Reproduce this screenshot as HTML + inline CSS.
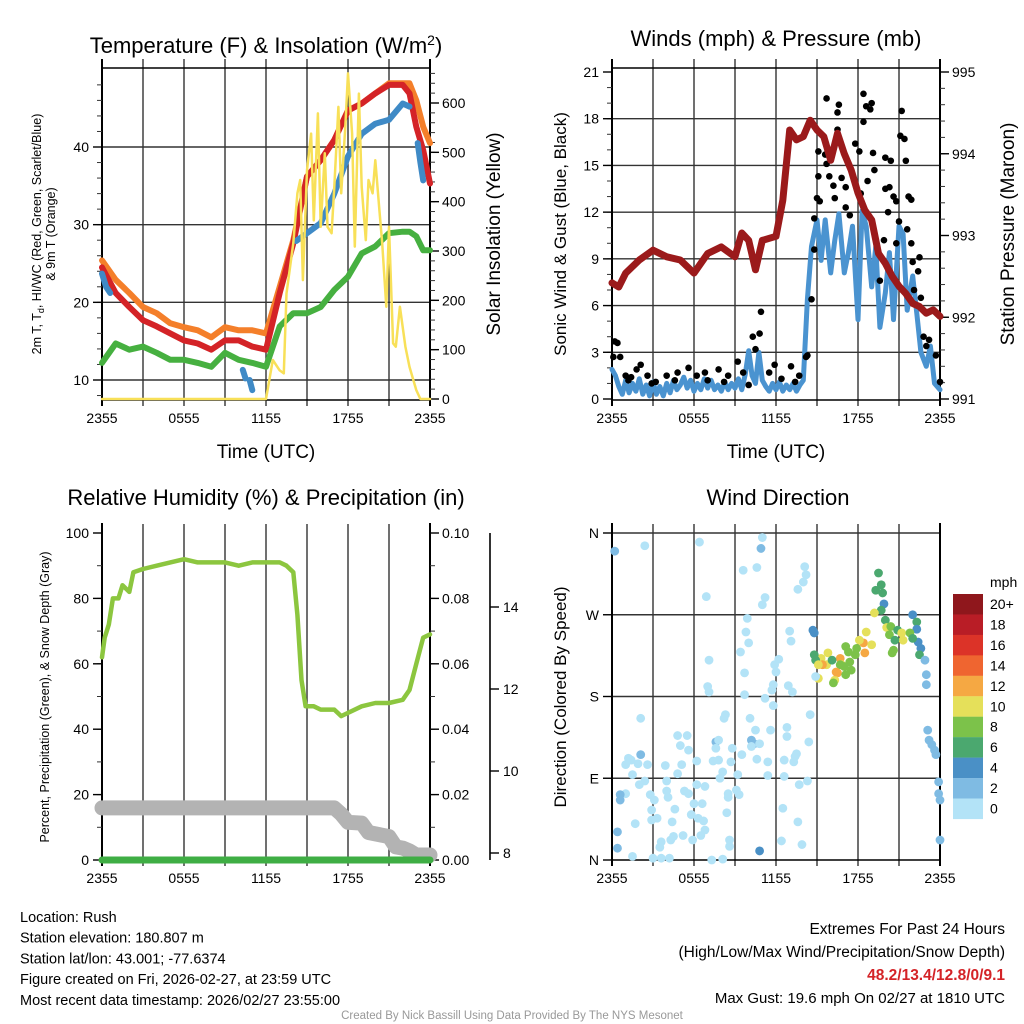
<!DOCTYPE html>
<html><head><meta charset="utf-8"><style>
html,body{margin:0;padding:0;background:#fff;}
svg{display:block;font-family:"Liberation Sans",Arial,sans-serif;}
</style></head><body>
<svg id="c" width="1024" height="1024" viewBox="0 0 1024 1024"></svg>
<script>
// ---------- Panel 1 data ----------
const tempTimes = [0,1,2,3,4,5,6,7,8,9,10,11,12,13,14,15,16,17,18,19,20,21,22,22.5,23,23.5,24];
const tempRed = [24.5,21.2,19.4,17.7,16.9,16.0,15.1,14.7,13.9,15.1,15.1,14.3,13.9,21.2,27.6,36.2,38.3,40.9,44.7,45.6,46.9,48.0,48.0,46.9,42.6,39.6,35.3];
const tempOrange = [25.4,22.9,21.2,19.4,18.6,17.3,16.8,16.4,15.5,16.8,16.4,16.4,16.0,22.0,28.0,36.2,38.3,40.9,44.7,45.6,46.9,48.2,48.2,48.2,46.0,42.6,40.5];
const tempGreen = [12.2,14.7,13.9,14.3,13.5,12.6,12.6,12.2,11.7,13.5,12.6,12.2,11.7,16.9,18.6,18.6,19.4,21.6,23.3,26.3,27.2,28.9,29.1,29.1,28.5,26.7,26.7];
const blueTimes = [0,0.3,0.6,null,10.3,10.5,null,10.8,11.0,null,14.2,15,16,17,18,19,20,21,22,22.5,null,23.1,23.3,23.5];
const blueVals = [23.7,22.0,21.2,null,11.3,10.2,null,10.0,8.7,null,27.9,28.9,30.2,34.0,38.8,41.7,43.0,43.5,45.6,45.2,null,40.5,38.0,35.7];
const solarTimes = [0,12,12.5,13,13.3,13.5,14,14.3,14.5,14.7,15,15.3,15.5,15.8,16,16.3,16.5,16.8,17,17.3,17.5,17.8,18,18.3,18.5,18.8,19,19.3,19.5,19.8,20,20.3,20.5,20.8,21,21.3,21.5,21.8,22.2,22.5,23,23.3,24];
const solarVals = [0,0,79,58,52,214,316,417,444,241,464,538,362,579,349,498,349,336,430,592,417,552,660,538,309,619,430,322,444,417,484,383,316,187,349,113,106,187,106,65,18,0,0];
// ---------- Panel 2 data ----------
const presTimes = [0,0.5,1,2,3,4,5,6,7,8,9,9.5,10,10.5,11,12,12.5,13,13.5,14,14.5,15,15.5,16,16.5,17,17.5,18,18.5,19,19.5,20,20.5,21,21.5,22,22.5,23,23.5,24];
const presVals = [992.42,992.37,992.54,992.70,992.82,992.74,992.70,992.54,992.78,992.86,992.74,993.03,992.94,992.58,992.94,992.99,993.43,994.29,994.17,994.21,994.41,994.29,994.21,993.92,994.25,994.00,993.80,993.52,993.31,993.19,992.78,992.66,992.50,992.38,992.29,992.17,992.13,992.05,992.09,992.01];
const windTimes = [0,0.25,0.5,0.75,1,1.25,1.5,1.75,2,2.25,2.5,2.75,3,3.25,3.5,3.75,4,4.25,4.5,4.75,5,5.25,5.5,5.75,6,6.25,6.5,6.75,7,7.25,7.5,7.75,8,8.25,8.5,8.75,9,9.25,9.5,9.75,10,10.25,10.5,10.75,11,11.25,11.5,11.75,12,12.25,12.5,12.75,13,13.25,13.5,13.75,14,14.3,14.6,15,15.3,15.6,16,16.3,16.6,17,17.3,17.6,18,18.3,18.6,19,19.3,19.6,20,20.3,20.6,21,21.3,21.6,22,22.3,22.6,23,23.3,23.6,24];
const windVals = [1.9,1.5,0.8,0.3,1.2,0.4,1.0,0.5,1.3,0.3,0.9,0.2,1.1,0.3,0.8,0.2,1.0,0.4,1.2,0.6,0.9,1.4,0.7,1.2,0.5,1.0,0.6,1.3,0.7,1.2,0.6,0.9,0.5,1.1,0.6,1.0,0.7,1.3,0.6,1.6,3.1,1.5,1.0,3.0,1.2,0.8,0.5,1.0,0.6,1.1,0.5,0.9,0.6,1.0,0.5,0.9,1.2,6.4,9.8,11.5,8.9,11.5,8.1,10.2,11.9,8.1,9.4,11.1,5.1,12.1,11.1,7.2,9.8,4.6,6.8,9.4,5.1,11.1,10.6,5.7,7.9,5.5,3.0,2.1,3.4,1.0,0.6];
const gustTimes = [0.2,0.4,0.1,0.6,1.0,1.4,2.1,1.8,2.6,3.2,4.0,4.8,5.6,6.2,6.8,7.8,8.5,9.2,9.6,10.3,10.8,10.9,10.5,11.5,11.9,13.1,13.7,14.2,1.2,2.9,4.6,7.0,8.2,10.0,12.4,13.4,14.3,15.7,16.6,16.5,18.4,18.6,19.0,18.9,18.4,21.2,21.1,21.4,21.5,16.5,15.1,15.6,15.7,17.8,18.1,19.1,20.0,20.4,19.2,15.1,15.9,16.8,16.2,17.1,20.0,20.3,20.6,20.8,20.2,21.0,21.7,21.9,15.0,15.2,17.1,17.4,16.3,14.8,14.8,14.6,19.9,20.8,21.6,21.9,18.7,18.2,19.6,22.0,22.5,22.4,22.1,22.6,22.8,23.2,23.7,24.0,23.0];
const gustVals = [3.7,3.6,2.7,2.7,1.5,1.4,2.2,1.9,1.5,1.1,1.5,1.7,2.0,1.5,1.7,1.9,1.5,2.4,1.7,4.0,4.2,5.6,3.2,1.7,2.2,2.1,1.5,2.7,1.2,1.0,1.2,1.2,1.1,0.9,1.3,1.1,2.8,19.3,18.9,18.4,19.6,18.8,19.0,18.6,17.8,18.5,16.9,16.7,15.3,17.3,15.9,15.7,15.1,16.4,15.9,15.8,15.5,15.3,14.7,14.3,14.3,14.2,13.7,13.6,13.5,13.6,13.0,12.7,12.0,11.4,13.0,12.8,12.9,12.7,12.3,11.8,12.9,11.6,9.6,6.4,10.2,10.0,10.9,10.0,14.0,13.2,7.6,8.8,9.1,8.2,7.0,6.5,4.0,3.8,2.8,1.1,3.4];
// ---------- Panel 3 data ----------
const rhTimes = [0,0.2,0.5,0.8,1.2,1.5,2,2.3,3,4,5,6,7,8,9,10,11,12,13,13.5,14,14.3,14.6,14.9,15.5,16,17,17.5,18,19,20,21,22,22.5,23,23.5,24];
const rhVals = [62,68,72,80,80,84,82,88,89,90,91,92,91,91,91,90,91,91,91,90,88,75,55,47,47,46,46,44,45,47,48,48,49,52,60,68,69];
const snowTimes = [0,17,17.5,18,19,19.5,21,21.5,22,22.5,23,24];
const snowVals = [9.1,9.1,8.95,8.75,8.73,8.5,8.4,8.15,8.12,8.05,7.95,7.95];
const precipTimes = [0,24];
const precipVals = [0,0];
// ---------- Panel 4 data ----------
const dirTimes = [0.2,2.4,6.4,11,10.9,9.6,10.6,14.1,14.2,14.0,13.6,6.9,11.2,11.0,9.9,9.8,10,9.4,13,13.1,14.7,14.8,7.1,12.2,11.9,12.0,9.7,11.8,11.7,12.9,13.2,7.0,7.1,9.7,11.2,11.8,14.5,8.3,8.2,2.1,10.1,12.8,11.6,10.5,4.8,5.5,5.0,5.6,7.6,7.8,10.2,10.4,10.8,12.8,14.4,7.6,8.8,9.5,10.2,13.5,13.4,2.1,1.2,1.4,1.9,2.6,3.9,5.1,6.2,7.4,7.8,8.7,10.6,11.4,12.6,13.3,1.0,1.5,2.4,2.0,4.0,4.8,6.2,6.8,8.1,7.9,9.2,11.4,12.6,13.7,14.3,1.0,0.6,0.6,2.8,3.1,4.0,4.1,5.3,5.6,6.0,6.6,8.5,8.5,9.1,9.3,2.9,3.3,2.9,4.6,5.8,6.3,6.7,8.4,12.5,1.7,4.4,5.2,4.5,4.3,3.6,3.5,5.9,6.5,6.8,8.6,8.6,12.4,13.9,0.4,0.4,1.5,3.0,3.6,4.2,7.3,8.1,10.8,13.6,23.1,23.2,23.4,23.6,23.7,23.9,23.9,24.0,24.0,19.5,19.7,19.3,19.8,19.9,19.7,20,22,22.3,22.3,22.4,22.6,22.5,22.9,23,23.0,19.2,18.6,20.1,20.4,20.9,21.2,21.3,21.8,22,20.3,20.7,20.6,20.5,18.4,18.5,19,18.1,17.9,17.8,17.1,17.3,16.7,17.4,17.5,16.8,16.5,16.3,16.2,15.7,15.8,15.3,15.4,14.8,14.9,15.1,16.1,16.7,17.1,15.1,14.9,16.4,17.0];
const dirVals = [340,346,350,355,343,319,322,323,314,306,298,290,289,281,266,251,239,229,252,241,253,250,220,221,215,207,206,193,187,192,185,191,185,182,178,170,160,160,156,156,156,146,143,143,137,137,126,121,130,132,132,128,128,136,130,123,123,116,125,117,114,116,112,110,106,105,104,105,109,109,110,108,111,108,110,108,105,94,87,83,87,95,83,81,97,90,94,93,92,83,87,73,72,66,72,66,76,69,76,73,62,62,73,69,77,72,55,46,44,56,50,46,43,52,57,40,42,27,26,22,20,14,22,27,33,22,15,21,17,31,13,4,2,2,2,0,1,10,42,143,132,127,121,116,86,73,66,22,316,303,297,294,282,275,264,270,262,254,240,233,226,220,204,193,272,251,256,257,253,250,242,250,244,248,242,231,228,239,228,237,242,233,226,235,229,222,218,209,215,206,198,195,215,228,222,215,226,220,215,220,215,204,200,202,207,213];
const dirSpeeds = [3,1,1,1,3,1,1,1,1,1,1,1,1,1,1,1,1,1,1,1,5,5,1,1,1,1,1,1,1,1,1,1,1,1,1,1,1,1,1,1,1,1,1,1,1,1,1,1,3,1,3,3,1,1,1,1,1,1,1,1,1,3,1,1,1,1,1,1,1,1,1,1,1,1,1,1,1,1,1,1,1,1,1,1,1,1,1,1,1,1,1,1,3,3,1,1,1,1,1,1,1,1,1,1,1,1,1,1,1,1,1,1,1,1,1,1,1,1,1,1,1,1,1,1,1,1,1,1,1,3,3,1,1,1,1,1,1,5,1,3,3,3,3,3,3,3,3,3,7,7,7,7,5,7,7,5,7,5,5,5,7,3,3,3,11,11,11,9,7,11,11,9,7,9,7,9,9,13,13,11,11,9,9,9,9,13,9,9,11,13,11,9,11,11,11,13,7,7,11,7,9,9,11,1,13,9];
const cbLabels = ["20+","18","16","14","12","10","8","6","4","2","0"];
const cbColors = ["#8f171c","#b91d26","#dc3328","#ef6530","#f5a843","#e5e05a","#7cc24a","#4ba86f","#4a90c6","#7fbbe3","#b3e3f7"];
const timeLabels = ["2355","0555","1155","1755","2355"];

const svg = document.getElementById('c');
const NS = 'http://www.w3.org/2000/svg';
function mk(tag, attrs, parent, name, inter){
  const e = document.createElementNS(NS, tag);
  for (const k in attrs) e.setAttribute(k, attrs[k]);
  
  
  (parent || svg).appendChild(e);
  return e;
}
function txt(x, y, s, size, anchor, name, extra){
  const a = {x:x, y:y, 'font-size':size, 'text-anchor':anchor || 'middle', fill:'#000'};
  if (extra) for (const k in extra) a[k] = extra[k];
  const t = mk('text', a, svg, name, false);
  t.textContent = s;
  return t;
}
function tspan(parent, s, attrs, name){
  const e = document.createElementNS(NS, 'tspan');
  for (const k in attrs) e.setAttribute(k, attrs[k]);
  e.textContent = s;
  
  
  parent.appendChild(e);
  return e;
}
function linear(d0, d1, r0, r1){ return v => r0 + (v - d0) * (r1 - r0) / (d1 - d0); }
function pathD(ts, vs, sx, sy){
  let d = '', pen = false;
  for (let i = 0; i < ts.length; i++){
    if (ts[i] === null || vs[i] === null){ pen = false; continue; }
    d += (pen ? 'L' : 'M') + sx(ts[i]).toFixed(1) + ' ' + sy(vs[i]).toFixed(1);
    pen = true;
  }
  return d;
}
function series(ts, vs, sx, sy, color, w, name){
  mk('path', {d:pathD(ts, vs, sx, sy), fill:'none', stroke:color, 'stroke-width':w, 'stroke-linejoin':'round', 'stroke-linecap':'round'}, svg, name, false);
}
const GRID = '#333';
function frame(P, hgrid, name, topBorder){
  for (let h = 0; h <= 24; h += 3){
    const x = P.sx(h);
    mk('line', {x1:x, x2:x, y1:P.y0 - 9, y2:P.y1 + 6, stroke: (h === 0 || h === 24) ? '#000' : GRID, 'stroke-width': (h === 0 || h === 24) ? 2 : 1.4}, svg, name + '-vgrid', false);
  }
  hgrid.forEach(y => mk('line', {x1:P.x0, x2:P.x1, y1:y, y2:y, stroke:GRID, 'stroke-width':1.4}, svg, name + '-hgrid', false));
  if (topBorder) mk('line', {x1:P.x0, x2:P.x1, y1:P.y0, y2:P.y0, stroke:'#000', 'stroke-width':1.6}, svg, name + '-top-border', false);
  mk('line', {x1:P.x0, x2:P.x1, y1:P.y1, y2:P.y1, stroke:'#000', 'stroke-width':1.6}, svg, name + '-bottom-border', false);
  timeLabels.forEach((l, i) => txt(P.sx(i * 6), P.y1 + 23, l, 14, 'middle', 'x-tick-label'));
}
function ticksLeft(P, vals, sy, labels, name, minor){
  if (minor) minor.forEach(v => mk('line', {x1:P.x0 - 5, x2:P.x0, y1:sy(v), y2:sy(v), stroke:GRID, 'stroke-width':1}, svg, name + '-minor-tick', false));
  vals.forEach((v, i) => {
    mk('line', {x1:P.x0 - 9, x2:P.x0, y1:sy(v), y2:sy(v), stroke:'#000', 'stroke-width':1.4}, svg, name + '-tick', false);
    txt(P.x0 - 13, sy(v) + 5, labels[i], 14, 'end', name + '-label');
  });
}
function ticksRight(P, x, vals, sy, labels, name, minor){
  if (minor) minor.forEach(v => mk('line', {x1:x, x2:x + 5, y1:sy(v), y2:sy(v), stroke:GRID, 'stroke-width':1}, svg, name + '-minor-tick', false));
  vals.forEach((v, i) => {
    mk('line', {x1:x, x2:x + 9, y1:sy(v), y2:sy(v), stroke:'#000', 'stroke-width':1.4}, svg, name + '-tick', false);
    txt(x + 12, sy(v) + 5, labels[i], 14, 'start', name + '-label');
  });
}
function range(a, b, s){ const r = []; for (let v = a; v <= b + 1e-9; v += s) r.push(+v.toFixed(4)); return r; }

// ===== Panel 1 =====
const P1 = {x0:102, x1:430, y0:68, y1:400}; P1.sx = linear(0, 24, P1.x0, P1.x1);
const y1L = linear(10, 40, 380, 147), y1R = linear(0, 600, 399, 103);
frame(P1, [10,20,30,40].map(y1L), 'temp-panel', true);
mk('line', {x1:P1.x0, x2:P1.x0, y1:P1.y0, y2:P1.y1, stroke:'#000', 'stroke-width':2}, svg, 'temp-left-axis', false);
mk('line', {x1:P1.x1, x2:P1.x1, y1:P1.y0, y2:P1.y1, stroke:'#000', 'stroke-width':2}, svg, 'temp-right-axis', false);
ticksLeft(P1, [10,20,30,40], y1L, ['10','20','30','40'], 'temp-y', range(8, 48, 2));
ticksRight(P1, P1.x1, [0,100,200,300,400,500,600], y1R, ['0','100','200','300','400','500','600'], 'solar-y', range(0, 660, 20));
series(tempTimes, tempOrange, P1.sx, y1L, '#f47f2a', 6, 'temp-9m-line');
series(tempTimes, tempRed, P1.sx, y1L, '#d42327', 6, 'temp-2m-line');
series(blueTimes, blueVals, P1.sx, y1L, '#3f8ac6', 6, 'heat-index-windchill-line');
series(tempTimes, tempGreen, P1.sx, y1L, '#46b040', 6, 'dewpoint-line');
series(solarTimes, solarVals, P1.sx, y1R, '#f8e058', 2.5, 'solar-insolation-line');
const t1 = txt(266, 53, 'Temperature (F) & Insolation (W/m', 22, 'middle', 'temp-chart-title');
tspan(t1, '2', {dy:'-8', 'font-size':'14'}, 'title-superscript');
tspan(t1, ')', {dy:'8'}, 'title-paren');
const yl = txt(0, 0, '2m T, T', 12.5, 'middle', 'temp-y-axis-title', {transform:'translate(41,234) rotate(-90)'});
tspan(yl, 'd', {dy:'3', 'font-size':'9'}, 'td-subscript');
tspan(yl, ', HI/WC (Red, Green, Scarlet/Blue)', {dy:'-3'}, 'temp-y-axis-title-rest');
txt(0, 0, '& 9m T (Orange)', 12.5, 'middle', 'temp-y-axis-title-2', {transform:'translate(55,234) rotate(-90)'});
txt(266, 458, 'Time (UTC)', 19, 'middle', 'temp-x-axis-title');
txt(0, 0, 'Solar Insolation (Yellow)', 19, 'middle', 'solar-y-axis-title', {transform:'translate(500,234) rotate(-90)'});

// ===== Panel 2 =====
const P2 = {x0:612, x1:940, y0:68, y1:400}; P2.sx = linear(0, 24, P2.x0, P2.x1);
const y2L = linear(0, 21, 399, 72), y2R = linear(991, 995, 399, 72);
frame(P2, [3,6,9,12,15,18].map(y2L), 'wind-panel', true);
mk('line', {x1:P2.x0, x2:P2.x0, y1:P2.y0, y2:P2.y1, stroke:'#000', 'stroke-width':2}, svg, 'wind-left-axis', false);
mk('line', {x1:P2.x1, x2:P2.x1, y1:P2.y0, y2:P2.y1, stroke:'#000', 'stroke-width':2}, svg, 'wind-right-axis', false);
ticksLeft(P2, [0,3,6,9,12,15,18,21], y2L, ['0','3','6','9','12','15','18','21'], 'wind-y', range(0, 21, 1));
ticksRight(P2, P2.x1, [991,992,993,994,995], y2R, ['991','992','993','994','995'], 'pressure-y', range(991, 995, 0.2));
series(windTimes, windVals, P2.sx, y2L, '#4a93d0', 5, 'sonic-wind-line');
gustTimes.forEach((t, i) => {
  mk('circle', {cx:P2.sx(t), cy:y2L(gustVals[i]), r:3.3, fill:'#000'}, svg, 'gust-point', false);
});
series(presTimes, presVals, P2.sx, y2R, '#9b1a1b', 7, 'pressure-line');
txt(776, 46, 'Winds (mph) & Pressure (mb)', 22, 'middle', 'wind-chart-title');
txt(776, 458, 'Time (UTC)', 19, 'middle', 'wind-x-axis-title');
txt(0, 0, 'Sonic Wind & Gust (Blue, Black)', 17, 'middle', 'wind-y-axis-title', {transform:'translate(566,234) rotate(-90)'});
txt(0, 0, 'Station Pressure (Maroon)', 19, 'middle', 'pressure-y-axis-title', {transform:'translate(1014,234) rotate(-90)'});

// ===== Panel 3 =====
const P3 = {x0:102, x1:430, y0:533, y1:860}; P3.sx = linear(0, 24, P3.x0, P3.x1);
const y3L = linear(0, 100, 860, 533), y3R = linear(0, 0.1, 860, 533), y3S = linear(8, 14, 853, 607);
frame(P3, [], 'rh-panel', false);
mk('line', {x1:P3.x0, x2:P3.x0, y1:P3.y0 - 10, y2:P3.y1, stroke:'#000', 'stroke-width':2}, svg, 'rh-left-axis', false);
mk('line', {x1:P3.x1, x2:P3.x1, y1:P3.y0 - 10, y2:P3.y1, stroke:'#000', 'stroke-width':2}, svg, 'rh-right-axis', false);
ticksLeft(P3, [0,20,40,60,80,100], y3L, ['0','20','40','60','80','100'], 'rh-y', range(0, 100, 10));
ticksRight(P3, P3.x1, [0,0.02,0.04,0.06,0.08,0.1], y3R, ['0.00','0.02','0.04','0.06','0.08','0.10'], 'precip-y', range(0, 0.1, 0.01));
mk('line', {x1:490, x2:490, y1:P3.y0, y2:P3.y1, stroke:'#000', 'stroke-width':1.6}, svg, 'snow-axis', false);
[8,10,12,14].forEach(v => {
  mk('line', {x1:490, x2:499, y1:y3S(v), y2:y3S(v), stroke:'#000', 'stroke-width':1.4}, svg, 'snow-y-tick', false);
  txt(503, y3S(v) + 5, String(v), 14, 'start', 'snow-y-label');
});
series(snowTimes, snowVals, P3.sx, y3S, '#b3b3b3', 15, 'snow-depth-line');
series(precipTimes, precipVals, P3.sx, y3R, '#3fae44', 7, 'precipitation-line');
series(rhTimes, rhVals, P3.sx, y3L, '#8cc63f', 4.5, 'relative-humidity-line');
txt(266, 505, 'Relative Humidity (%) & Precipitation (in)', 22, 'middle', 'rh-chart-title');
txt(0, 0, 'Percent, Precipitation (Green), & Snow Depth (Gray)', 12.5, 'middle', 'rh-y-axis-title', {transform:'translate(49,697) rotate(-90)'});

// ===== Panel 4 =====
const P4 = {x0:612, x1:940, y0:533, y1:860}; P4.sx = linear(0, 24, P4.x0, P4.x1);
const y4 = linear(0, 360, 860, 533);
frame(P4, [90,180,270,360].map(y4), 'direction-panel', false);
mk('line', {x1:P4.x0, x2:P4.x0, y1:P4.y0 - 10, y2:P4.y1, stroke:'#000', 'stroke-width':2}, svg, 'direction-left-axis', false);
mk('line', {x1:P4.x1, x2:P4.x1, y1:P4.y0 - 10, y2:P4.y1, stroke:'#000', 'stroke-width':2}, svg, 'direction-right-axis', false);
ticksLeft(P4, [0,90,180,270,360], y4, ['N','E','S','W','N'], 'direction-y', null);
function speedColor(s){ const b = Math.min(10, Math.floor(s / 2)); return cbColors[10 - b]; }
dirTimes.forEach((t, i) => {
  mk('circle', {cx:P4.sx(t), cy:y4(dirVals[i]), r:4.4, fill:speedColor(dirSpeeds[i])}, svg, 'direction-point', false);
});
txt(778, 505, 'Wind Direction', 22, 'middle', 'direction-chart-title');
txt(0, 0, 'Direction (Colored By Speed)', 17, 'middle', 'direction-y-axis-title', {transform:'translate(566,697) rotate(-90)'});
txt(990, 587, 'mph', 14, 'start', 'colorbar-title');
cbColors.forEach((c, i) => {
  mk('rect', {x:953, y:594 + i * 20.45, width:30, height:20.6, fill:c}, svg, 'colorbar-bin', false);
  txt(990, 594 + i * 20.45 + 15, cbLabels[i], 14, 'start', 'colorbar-label');
});

// ===== Footer text =====
['Location: Rush','Station elevation: 180.807 m','Station lat/lon: 43.001; -77.6374','Figure created on Fri, 2026-02-27, at 23:59 UTC','Most recent data timestamp: 2026/02/27 23:55:00'].forEach((s, i) => txt(20, 922 + i * 20.7, s, 14.5, 'start', 'station-info-line'));
txt(1005, 934, 'Extremes For Past 24 Hours', 15.5, 'end', 'extremes-heading');
txt(1005, 957, '(High/Low/Max Wind/Precipitation/Snow Depth)', 15.5, 'end', 'extremes-legend');
txt(1005, 980, '48.2/13.4/12.8/0/9.1', 15.5, 'end', 'extremes-values', {fill:'#d42327', 'font-weight':'bold'});
txt(1005, 1003, 'Max Gust: 19.6 mph On 02/27 at 1810 UTC', 15, 'end', 'max-gust-text');
txt(512, 1019, 'Created By Nick Bassill Using Data Provided By The NYS Mesonet', 11.5, 'middle', 'credit-text', {fill:'#999'});
</script>
</body></html>
